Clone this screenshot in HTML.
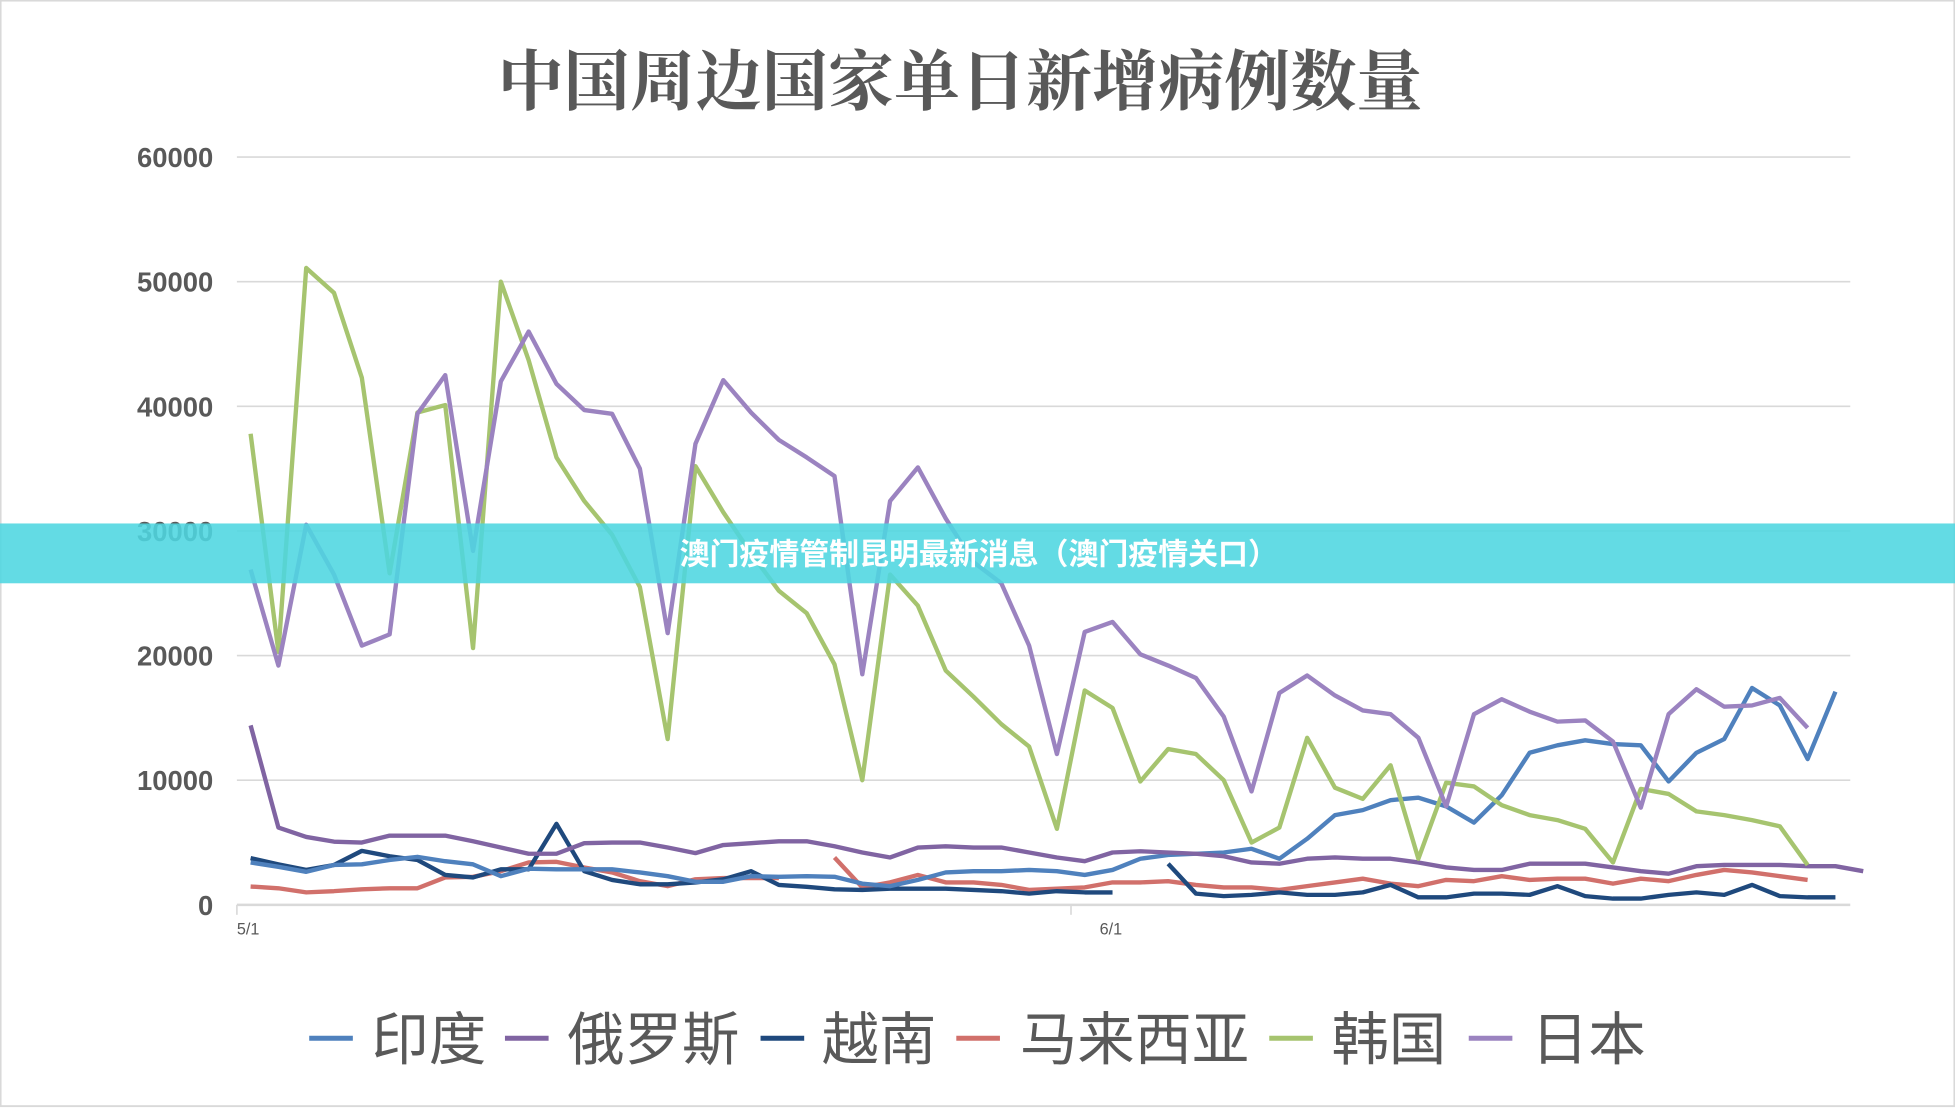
<!DOCTYPE html>
<html><head><meta charset="utf-8"><style>
html,body{margin:0;padding:0;background:#fff;}
svg{display:block;}
text{font-family:"Liberation Sans","Noto Sans CJK SC",sans-serif;}
</style></head><body>
<svg id="c" width="1955" height="1108" viewBox="0 0 1568 889" preserveAspectRatio="none" xmlns="http://www.w3.org/2000/svg">
<rect x="0.5" y="0.5" width="1567" height="887" fill="#fff" stroke="#d9d9d9" stroke-width="1.5"/>
<text x="770" y="84" text-anchor="middle" font-size="53" font-weight="bold" fill="#595959" style="font-family:'Noto Serif CJK SC','Noto Sans CJK SC',serif">中国周边国家单日新增病例数量</text>
<g stroke="#d9d9d9" stroke-width="1.3">
<line x1="190" x2="1484" y1="126" y2="126"/><line x1="190" x2="1484" y1="226" y2="226"/>
<line x1="190" x2="1484" y1="326" y2="326"/><line x1="190" x2="1484" y1="426" y2="426"/>
<line x1="190" x2="1484" y1="526" y2="526"/><line x1="190" x2="1484" y1="626" y2="626"/>
<line x1="190" x2="1484" y1="726" y2="726" stroke-width="2"/>
<line x1="190" x2="190" y1="726" y2="734"/><line x1="859" x2="859" y1="726" y2="734"/>
</g>
<g font-size="22" font-weight="bold" fill="#595959" text-anchor="end">
<text x="171" y="134">60000</text><text x="171" y="234">50000</text><text x="171" y="334">40000</text>
<text x="171" y="434">30000</text><text x="171" y="534">20000</text><text x="171" y="634">10000</text><text x="171" y="734">0</text>
</g>
<text x="190" y="750" font-size="13" fill="#595959">5/1</text>
<text x="882" y="750" font-size="13" fill="#595959">6/1</text>
<g id="series" fill="none" stroke-width="3.5" stroke-linejoin="round"></g>
<g font-size="46" fill="#595959" style="font-family:'Noto Sans CJK SC',sans-serif">
<line x1="248" x2="283" y1="833" y2="833" stroke="#4f81bd" stroke-width="4"/><text x="298" y="850">印度</text>
<line x1="405" x2="440" y1="833" y2="833" stroke="#8064a2" stroke-width="4"/><text x="455" y="850">俄罗斯</text>
<line x1="610" x2="645" y1="833" y2="833" stroke="#1f497d" stroke-width="4"/><text x="659" y="850">越南</text>
<line x1="767" x2="802" y1="833" y2="833" stroke="#d1706b" stroke-width="4"/><text x="818" y="850">马来西亚</text>
<line x1="1018" x2="1053" y1="833" y2="833" stroke="#a6c46f" stroke-width="4"/><text x="1068" y="850">韩国</text>
<line x1="1178" x2="1213" y1="833" y2="833" stroke="#9b83c0" stroke-width="4"/><text x="1228" y="850">日本</text>
</g>
<rect x="0" y="420" width="1568" height="48" fill="#4dd6e0" fill-opacity="0.88"/>
<text x="785" y="453" text-anchor="middle" font-size="24" font-weight="bold" fill="#fff" style="font-family:'Noto Sans CJK SC',sans-serif">澳门疫情管制昆明最新消息（澳门疫情关口）</text>
</svg>
<script>
var N=null;
var S=[
["#d1706b",[1470,1330,1000,1100,1250,1330,1330,2200,2250,2700,3400,3450,3000,2600,1900,1500,2050,2150,2150,2150,N,3800,1400,1800,2400,1800,1800,1600,1200,1300,1400,1800,1800,1900,1600,1400,1400,1200,1500,1800,2100,1700,1500,2000,1900,2300,2000,2100,2100,1700,2100,1900,2400,2800,2600,2300,2000]],
["#1f497d",[3750,3250,2800,3200,4330,3900,3600,2400,2200,2850,2850,6500,2700,2000,1650,1650,1800,2050,2700,1600,1450,1250,1200,1300,1300,1300,1200,1100,900,1100,1000,1000,N,3300,900,700,800,1000,800,800,1000,1600,600,600,900,900,800,1500,700,500,500,800,1000,800,1600,700,600,600]],
["#4f81bd",[3400,3050,2650,3200,3250,3600,3850,3500,3250,2300,2900,2850,2850,2850,2600,2300,1850,1850,2300,2250,2300,2250,1700,1500,2000,2600,2700,2700,2800,2700,2400,2800,3700,4000,4100,4200,4500,3700,5300,7200,7600,8400,8600,7900,6600,8800,12200,12800,13200,12900,12800,9900,12200,13300,17400,16000,11700,17100]],
["#8064a2",[14400,6200,5450,5070,5000,5550,5550,5550,5100,4600,4100,4100,4950,5000,5000,4600,4150,4800,4950,5100,5100,4700,4200,3800,4600,4700,4600,4600,4200,3800,3500,4200,4300,4200,4100,3900,3400,3300,3700,3800,3700,3700,3400,3000,2800,2800,3300,3300,3300,3000,2700,2500,3100,3200,3200,3200,3100,3100,2700]],
["#a6c46f",[37800,20300,51100,49100,42300,26600,39500,40100,20600,50000,43700,35900,32400,29700,25500,13300,35200,31500,28200,25200,23400,19300,10000,26500,24000,18800,16700,14500,12700,6100,17200,15800,9900,12500,12100,10000,5000,6200,13400,9400,8500,11200,3700,9800,9500,8000,7200,6800,6100,3400,9300,8900,7500,7200,6800,6300,3200]],
["#9b83c0",[26900,19200,30500,26500,20800,21700,39400,42500,28400,42000,46000,41800,39700,39400,35000,21800,37000,42100,39500,37300,35900,34400,18500,32400,35100,31000,27500,25800,20800,12100,21900,22700,20100,19200,18200,15100,9100,17000,18400,16800,15600,15300,13400,7900,15300,16500,15500,14700,14800,13100,7800,15300,17300,15900,16000,16600,14200]]
];
var g=document.getElementById('series'),h='';
S.forEach(function(s){var d='',pen=false;s[1].forEach(function(v,i){if(v===null){pen=false;return;}var x=(201+22.3*i).toFixed(1),y=(726-v/100).toFixed(1);d+=(pen?'L':'M')+x+' '+y+' ';pen=true;});h+='<path d="'+d+'" stroke="'+s[0]+'"/>';});
g.innerHTML=h;
</script>
</body></html>
